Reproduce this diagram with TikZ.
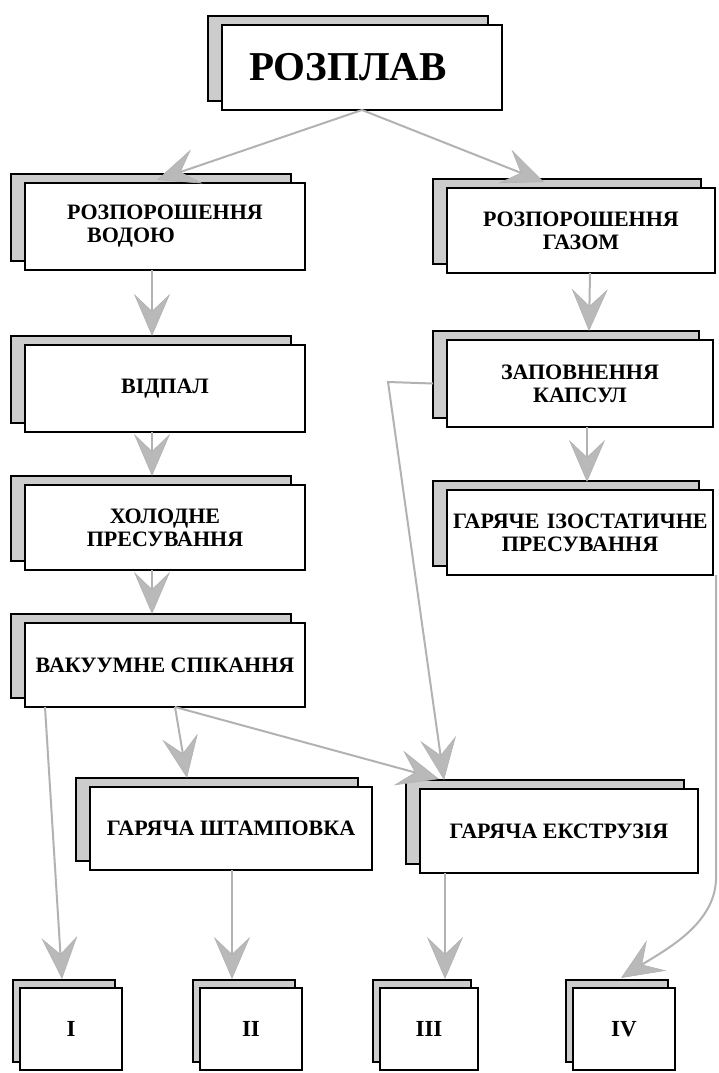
\documentclass[tikz,border=0pt]{standalone}
\usepackage{fontspec}
\setmainfont{Liberation Serif}
\usetikzlibrary{arrows.meta,shadows}
\begin{document}
\begin{tikzpicture}[x=1pt,y=-1pt,
  basebox/.style={draw=black, line width=2.8pt, fill=white, align=center, inner sep=6pt,
    outer sep=0pt, anchor=north west,
    font=\fontsize{22}{23}\selectfont\bfseries},
  box/.style={basebox,
    copy shadow={shadow xshift=-14pt, shadow yshift=9pt, opacity=1, fill=gray!40, draw=black, line width=2.2pt}},
  smallbox/.style={basebox, font=\fontsize{23}{24}\selectfont\bfseries,
    copy shadow={shadow xshift=-7pt, shadow yshift=8pt, opacity=1, fill=gray!40, draw=black, line width=2.2pt}},
  arr/.style={draw=gray!60, line width=2pt,
    -{Stealth[length=42pt,width=36pt,inset=17pt,fill=gray!55,line width=0.6pt]}}
]
\useasboundingbox (0,0) rectangle (718,1073);

% boxes
\node[box, minimum width=280pt, minimum height=85pt, font=\fontsize{41}{44}\selectfont\bfseries]
  (rozplav) at (222,25) {\hspace*{-28pt}РОЗПЛАВ};
\node[box, minimum width=280pt, minimum height=87pt, align=left]
  (vodoyu) at (25,183) {РОЗПОРОШЕННЯ\\\hspace*{20pt}ВОДОЮ};
\node[box, minimum width=268pt, minimum height=85pt]
  (gazom) at (447,188) {РОЗПОРОШЕННЯ\\ГАЗОМ};
\node[box, minimum width=280pt, minimum height=87pt]
  (vidpal) at (25,345) {ВІДПАЛ};
\node[box, minimum width=280pt, minimum height=85pt]
  (kholod) at (25,485) {ХОЛОДНЕ\\ПРЕСУВАННЯ};
\node[box, minimum width=280pt, minimum height=84pt]
  (vakuum) at (25,623) {ВАКУУМНЕ СПІКАННЯ};
\node[box, minimum width=266pt, minimum height=87pt]
  (zapovn) at (447,340) {ЗАПОВНЕННЯ\\КАПСУЛ};
\node[box, minimum width=266pt, minimum height=85pt, text width=254pt]
  (izost) at (447,490) {\mbox{ГАРЯЧЕ ІЗОСТАТИЧНЕ}\\ПРЕСУВАННЯ};
\node[box, minimum width=282pt, minimum height=83pt]
  (shtamp) at (90,787) {ГАРЯЧА ШТАМПОВКА};
\node[box, minimum width=278pt, minimum height=84pt]
  (ekstr) at (420,789) {ГАРЯЧА ЕКСТРУЗІЯ};
\node[smallbox, minimum width=102pt, minimum height=82pt] (b1) at (20,988) {I};
\node[smallbox, minimum width=102pt, minimum height=82pt] (b2) at (200,988) {II};
\node[smallbox, minimum width=98pt, minimum height=82pt] (b3) at (380,988) {III};
\node[smallbox, minimum width=102pt, minimum height=82pt] (b4) at (573,988) {IV};

% connectors
\coordinate (zbend) at (388,382);
\coordinate (ivbend) at (716,880);
\draw[arr] (rozplav.south) -- ([xshift=-8pt,yshift=3pt]vodoyu.north);
\draw[arr] (rozplav.south) -- ([xshift=-37pt,yshift=6pt]gazom.north);
\draw[arr] ([xshift=-13pt]vodoyu.south) -- ([xshift=-13pt,yshift=9pt]vidpal.north);
\draw[arr] ([xshift=-13pt]vidpal.south) -- ([xshift=-13pt,yshift=9pt]kholod.north);
\draw[arr] ([xshift=-13pt]kholod.south) -- ([xshift=-13pt,yshift=9pt]vakuum.north);
\draw[arr] ([xshift=9pt]gazom.south) -- ([xshift=9pt,yshift=9pt]zapovn.north);
\draw[arr] ([xshift=7pt]zapovn.south) -- ([xshift=7pt,yshift=8pt]izost.north);
\draw[arr] ([xshift=-14pt]zapovn.west) -- (zbend) -- ([xshift=-115pt,yshift=9pt]ekstr.north);
\draw[arr] ([xshift=10pt]vakuum.south) -- ([xshift=-44pt,yshift=9pt]shtamp.north);
\draw[arr] ([xshift=10pt]vakuum.south) -- ([xshift=-120pt,yshift=10pt]ekstr.north);
\draw[arr] ([xshift=20pt]vakuum.south west) -- ([xshift=-9pt,yshift=9pt]b1.north);
\draw[arr] ([xshift=1pt]shtamp.south) -- ([xshift=-19pt,yshift=9pt]b2.north);
\draw[arr] ([xshift=-114pt]ekstr.south) -- ([xshift=16pt,yshift=9pt]b3.north);
\draw[arr] ([xshift=3pt]izost.south east) -- (ivbend)
  .. controls (714,925) and (665,950) .. ([xshift=-3pt,yshift=10pt]b4.north);
\end{tikzpicture}
\end{document}
